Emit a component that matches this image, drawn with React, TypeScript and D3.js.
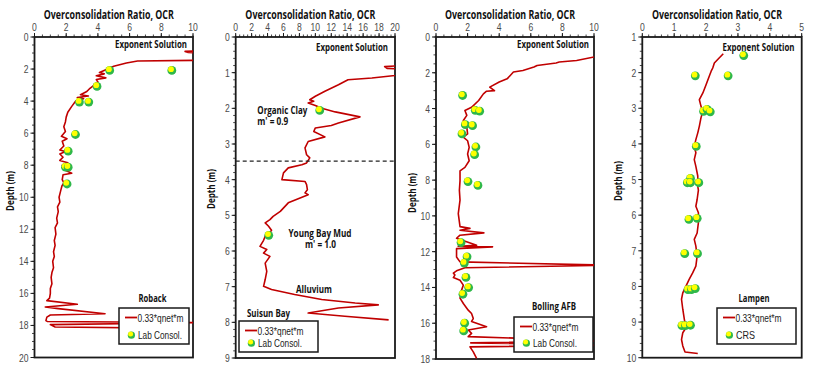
import React from 'react';
import * as d3 from 'd3';

type Pt = [number, number];

// [OCR, depth (m)]
const robackLine: Pt[] = [
  [11, 0.85], [9.5, 0.9], [9.7, 0.97], [12, 1.02], [14, 1.3], [11, 1.45], [6.5, 1.5], [5.8, 1.62],
  [5.0, 1.83], [4.5, 2.04], [4.1, 2.22], [4.4, 2.3], [3.9, 2.42], [4.5, 2.55], [3.9, 2.65], [4.0, 2.8],
  [3.7, 3.05], [3.5, 3.2], [3.3, 3.4], [2.9, 3.6], [3.4, 3.68], [2.7, 3.78], [3.1, 3.85], [2.6, 4.0],
  [2.35, 4.33], [2.1, 4.7], [2.0, 5.0], [1.95, 5.3], [1.85, 5.6], [1.95, 5.9], [1.7, 6.2], [2.05, 6.35],
  [1.75, 6.5], [1.85, 6.8], [1.6, 7.05], [1.95, 7.15], [1.6, 7.3], [1.8, 7.5], [1.6, 7.7], [2.1, 7.85],
  [1.75, 8.0], [1.9, 8.3], [2.35, 8.5], [1.8, 8.6], [1.75, 8.9], [1.85, 9.1], [1.73, 9.3], [1.65, 9.6],
  [1.55, 10.0], [1.6, 10.3], [1.45, 10.6], [1.5, 10.9], [1.4, 11.3], [1.45, 11.6], [1.3, 11.9], [1.35, 12.3],
  [1.25, 12.7], [1.3, 13.0], [1.2, 13.4], [1.25, 13.7], [1.15, 14.0], [1.2, 14.4], [1.1, 14.7], [1.05, 15.0],
  [1.1, 15.4], [1.0, 15.7], [1.0, 16.0], [0.95, 16.3], [0.78, 16.45], [2.7, 16.68], [0.68, 16.85],
  [1.5, 16.95], [4.45, 17.27], [1.0, 17.35], [0.78, 17.48], [0.72, 17.7], [0.8, 17.75], [11, 17.82],
  [1.0, 17.95], [1.3, 18.1], [9.6, 18.18],
];
const robackLab: Pt[] = [
  [4.72, 2.04], [8.64, 2.04], [3.92, 3.04], [2.81, 4.02], [3.4, 4.02], [2.56, 6.04], [2.1, 7.08],
  [1.93, 8.08], [2.1, 8.08], [2.03, 9.13],
];

const suisunLine: Pt[] = [
  [21, 0.8], [18.7, 0.83], [19, 0.88], [21, 0.9], [22, 1.0], [20, 1.08], [17.1, 1.15], [14.1, 1.2],
  [12.9, 1.34], [11.2, 1.52], [10, 1.66], [9.3, 1.76], [9.8, 1.8], [9.1, 1.85], [10, 1.92], [10.8, 2.0],
  [12.5, 2.1], [15.6, 2.24], [12.9, 2.41], [12, 2.48], [10, 2.55], [9.8, 2.65], [11.2, 2.8], [9.1, 2.93],
  [8.7, 3.11], [8.9, 3.3], [9.3, 3.39], [8.9, 3.53], [8.3, 3.58], [6.6, 3.67], [6.0, 3.81], [5.8, 4.0],
  [8.7, 4.05], [8.9, 4.14], [9.0, 4.28], [8.7, 4.37], [9.1, 4.42], [6.6, 4.65], [5.6, 4.89], [4.7, 5.03],
  [4.3, 5.12], [3.7, 5.21], [4.1, 5.3], [4.5, 5.42], [4.1, 5.54], [3.7, 5.59], [3.5, 5.7], [3.05, 5.87],
  [3.9, 5.96], [3.5, 6.06], [4.3, 6.15], [3.7, 6.34], [3.9, 6.57], [3.7, 6.8], [3.5, 6.99], [4.5, 7.08],
  [7.4, 7.22], [10.8, 7.36], [15, 7.46], [17.9, 7.51], [12.9, 7.6], [9.1, 7.74], [13.7, 7.83], [19.2, 7.93],
];
const suisunLab: Pt[] = [[10.5, 2.04], [4.1, 5.54]];

const bollingLine: Pt[] = [
  [11, 1.1], [10, 1.12], [8.9, 1.31], [7.8, 1.4], [7.6, 1.45], [6.4, 1.59], [6.2, 1.68], [5.5, 1.87],
  [4.9, 1.96], [4.7, 2.15], [4.5, 2.34], [4.0, 2.52], [3.4, 2.8], [3.7, 3.0], [3.2, 3.03], [3.0, 3.18],
  [2.7, 3.55], [2.25, 3.93], [1.83, 4.11], [1.95, 4.38], [1.73, 4.67], [1.95, 5.05], [2.0, 5.42],
  [1.73, 5.6], [2.0, 5.8], [2.1, 6.17], [2.0, 6.54], [2.1, 6.92], [1.83, 7.29], [1.52, 7.48], [1.52, 8.04],
  [1.48, 8.57], [1.52, 9.12], [1.41, 9.87], [1.52, 10.6], [2.15, 10.7], [1.52, 10.8], [3.03, 10.95],
  [1.52, 11.08], [1.3, 11.25], [2.57, 11.64], [1.4, 11.7], [3.58, 11.73], [1.3, 11.83], [1.3, 12.3],
  [1.52, 12.57], [11, 12.76], [1.83, 12.9], [1.3, 13.07], [1.1, 13.2], [1.2, 13.3], [1.1, 13.45],
  [1.52, 13.6], [1.73, 13.87], [1.62, 14.15], [1.52, 14.6], [1.73, 14.9], [2.04, 15.27], [2.25, 15.46],
  [2.36, 15.74], [2.25, 15.9], [3.2, 16.2], [2.04, 16.38], [2.25, 16.57], [2.04, 16.75], [11, 17.0],
  [2.2, 17.1], [11, 17.23], [2.15, 17.32], [2.36, 17.6], [2.57, 17.97],
];
const bollingLab: Pt[] = [
  [1.66, 3.23], [2.46, 4.06], [2.74, 4.11], [1.83, 4.86], [2.29, 4.92], [1.62, 5.38], [2.5, 6.11],
  [2.42, 6.54], [2.0, 8.04], [2.63, 8.26], [1.56, 11.45], [1.94, 12.25], [1.77, 12.6], [1.87, 13.4],
  [2.04, 13.97], [1.68, 14.34], [1.79, 15.96], [1.73, 16.39],
];

const lampenLine: Pt[] = [
  [2.54, 1.47], [2.41, 1.59], [2.26, 1.73], [2.21, 1.87], [2.16, 1.96], [2.1, 2.1], [2.0, 2.34],
  [1.9, 2.57], [1.79, 2.76], [1.84, 2.94], [1.9, 3.08], [1.84, 3.27], [1.79, 3.5], [1.74, 3.69],
  [1.68, 3.88], [1.63, 4.07], [1.68, 4.25], [1.63, 4.44], [1.68, 4.63], [1.74, 4.9], [1.74, 5.19],
  [1.76, 5.3], [1.72, 5.56], [1.68, 5.75], [1.76, 5.93], [1.76, 6.21], [1.72, 6.5], [1.63, 6.68],
  [1.68, 6.87], [1.72, 7.15], [1.68, 7.43], [1.58, 7.62], [1.47, 7.8], [1.37, 7.99], [1.27, 8.18],
  [1.23, 8.36], [1.27, 8.64], [1.32, 8.93], [1.37, 9.16], [1.27, 9.3], [1.23, 9.49], [1.27, 9.67],
  [1.34, 9.84], [1.74, 9.88],
];
const lampenCRS: Pt[] = [
  [3.17, 1.5], [1.65, 2.07], [2.68, 2.07], [1.91, 3.07], [2.02, 3.01], [2.12, 3.08], [1.68, 4.05],
  [1.5, 4.95], [1.4, 5.07], [1.5, 5.07], [1.76, 5.07], [1.45, 6.1], [1.71, 6.07], [1.32, 7.06],
  [1.72, 7.06], [1.42, 8.07], [1.53, 8.07], [1.65, 8.04], [1.23, 9.08], [1.34, 9.08], [1.5, 9.07],
];

const lineLabel = '0.33*qnet*m';
const siteNames = ['Roback', 'Suisun Bay', 'Bolling AFB', 'Lampen'];
const pointLabels = ['Lab Consol.', 'Lab Consol.', 'Lab Consol.', 'CRS'];

const RED = '#c00000';
const AXIS = '#1a1a1a';
const TICKTXT = '#4a4a4a';

type Panel = {
  left: number; right: number; top: number; bottom: number;
  xMax: number; xStep: number; xMinor: number;
  yMin: number; yMax: number; yStep: number; yMinor: number;
  line: Pt[]; pts: Pt[]; name: string; ptLabel: string;
  depthLabelY: number;
  solRight: number; solY: number;
  nameX: number; nameY: number; nameW: number;
  legend: { x: number; y: number; w: number; h: number };
};

const panels: Panel[] = [
  {
    left: 34.5, right: 193, top: 37, bottom: 357.5, xMax: 10, xStep: 2, xMinor: 0.5,
    yMin: 0, yMax: 20, yStep: 2, yMinor: 0.5, line: robackLine, pts: robackLab,
    name: siteNames[0], ptLabel: pointLabels[0], depthLabelY: 191,
    solRight: 187, solY: 48, nameX: 152.5, nameY: 302, nameW: 28,
    legend: { x: 119, y: 308, w: 70, h: 36 },
  },
  {
    left: 235.7, right: 395, top: 37, bottom: 358, xMax: 20, xStep: 2, xMinor: 0.5,
    yMin: 0, yMax: 9, yStep: 1, yMinor: 0.2, line: suisunLine, pts: suisunLab,
    name: siteNames[1], ptLabel: pointLabels[1], depthLabelY: 189,
    solRight: 388, solY: 51, nameX: 268.5, nameY: 317, nameW: 43,
    legend: { x: 239, y: 321, w: 79, h: 31 },
  },
  {
    left: 436, right: 594, top: 37, bottom: 359, xMax: 10, xStep: 2, xMinor: 0.5,
    yMin: 0, yMax: 18, yStep: 2, yMinor: 0.5, line: bollingLine, pts: bollingLab,
    name: siteNames[2], ptLabel: pointLabels[2], depthLabelY: 193,
    solRight: 589, solY: 48, nameX: 554, nameY: 310, nameW: 44,
    legend: { x: 514, y: 317, w: 79, h: 35 },
  },
  {
    left: 642.3, right: 801.7, top: 37, bottom: 357.7, xMax: 5, xStep: 1, xMinor: 0.2,
    yMin: 1, yMax: 10, yStep: 1, yMinor: 0.2, line: lampenLine, pts: lampenCRS,
    name: siteNames[3], ptLabel: pointLabels[3], depthLabelY: 181,
    solRight: 794.5, solY: 51, nameX: 754, nameY: 302, nameW: 31,
    legend: { x: 717, y: 308, w: 79, h: 36 },
  },
];

const BOLD = '"Open Sans", Lato, sans-serif';
const SANS = '"Liberation Sans", Arial, sans-serif';

const Marker = ({ x, y, small }: { x: number; y: number; small?: boolean }) => (
  <g>
    <circle cx={x + 0.4} cy={y + 0.7} r={small ? 3.6 : 4.4} fill="#2fb84a" />
    <circle cx={x - 0.4} cy={y - 0.5} r={small ? 2.5 : 2.9} fill="#ffff00" />
  </g>
);

const range = (a: number, b: number, s: number) => {
  const out: number[] = [];
  const n = Math.round((b - a) / s);
  for (let i = 0; i <= n; i++) out.push(+(a + i * s).toFixed(4));
  return out;
};

const PanelChart = ({ p, i }: { p: Panel; i: number }) => {
  const x = d3.scaleLinear().domain([0, p.xMax]).range([p.left, p.right]);
  const y = d3.scaleLinear().domain([p.yMin, p.yMax]).range([p.top, p.bottom]);
  const line = d3.line<Pt>().x(d => x(d[0])).y(d => y(d[1]));
  const xMajors = range(0, p.xMax, p.xStep);
  const xMinors = range(0, p.xMax, p.xMinor);
  const yMajors = range(p.yMin, p.yMax, p.yStep);
  const yMinors = range(p.yMin, p.yMax, p.yMinor);
  const cx = (p.left + p.right) / 2 - 5;
  const cid = `clip${i}`;
  const lg = p.legend;
  return (
    <g>
      <defs>
        <clipPath id={cid}>
          <rect x={p.left} y={p.top} width={p.right - p.left} height={p.bottom - p.top} />
        </clipPath>
      </defs>
      <text x={cx} y={19} textAnchor="middle" fontFamily={BOLD} fontWeight="bold" fontSize={12}
        textLength={130} lengthAdjust="spacingAndGlyphs" fill="#111">Overconsolidation Ratio, OCR</text>
      {xMinors.map(v => (
        <line key={'xm' + v} x1={x(v)} x2={x(v)} y1={p.top} y2={p.top - 2.5} stroke={AXIS} strokeWidth={0.8} />
      ))}
      {xMajors.map(v => (
        <g key={'xM' + v}>
          <line x1={x(v)} x2={x(v)} y1={p.top} y2={p.top - 4} stroke={AXIS} strokeWidth={1} />
          <text transform={`translate(${x(v)},31) scale(0.78,1)`} textAnchor="middle" fontFamily={SANS}
            fontSize={11} fill={TICKTXT}>{v}</text>
        </g>
      ))}
      {yMinors.map(v => (
        <line key={'ym' + v} x1={p.left} x2={p.left - 2.5} y1={y(v)} y2={y(v)} stroke={AXIS} strokeWidth={0.8} />
      ))}
      {yMajors.map(v => (
        <g key={'yM' + v}>
          <line x1={p.left} x2={p.left - 4} y1={y(v)} y2={y(v)} stroke={AXIS} strokeWidth={1} />
          <text transform={`translate(${p.left - 6},${y(v) + 4}) scale(0.78,1)`} textAnchor="end"
            fontFamily={SANS} fontSize={11} fill={TICKTXT}>{v}</text>
        </g>
      ))}
      <text transform={`translate(${p.left - 20.5},${p.depthLabelY}) rotate(-90)`} textAnchor="middle"
        fontFamily={BOLD} fontWeight="bold" fontSize={11} textLength={40} lengthAdjust="spacingAndGlyphs"
        fill="#111">Depth (m)</text>
      <rect x={p.left} y={p.top} width={p.right - p.left} height={p.bottom - p.top} fill="none"
        stroke={AXIS} strokeWidth={1.8} />
      <g clipPath={`url(#${cid})`}>
        <path d={line(p.line) || ''} fill="none" stroke={RED} strokeWidth={1.6} strokeLinejoin="round" />
        {i === 1 && (
          <line x1={p.left} x2={p.right} y1={y(3.48)} y2={y(3.48)} stroke="#222" strokeWidth={1.4}
            strokeDasharray="4,3" />
        )}
        {p.pts.map((d, k) => <Marker key={k} x={x(d[0])} y={y(d[1])} />)}
      </g>
      <text x={p.solRight} y={p.solY} textAnchor="end" fontFamily={BOLD} fontWeight="bold" fontSize={10.5}
        textLength={72} lengthAdjust="spacingAndGlyphs" fill="#111">Exponent Solution</text>
      <text x={p.nameX} y={p.nameY} textAnchor="middle" fontFamily={BOLD} fontWeight="bold" fontSize={10.5}
        textLength={p.nameW} lengthAdjust="spacingAndGlyphs" fill="#111">{p.name}</text>
      <rect x={lg.x} y={lg.y} width={lg.w} height={lg.h} fill="#fff" stroke={AXIS} strokeWidth={1.5} />
      <line x1={lg.x + 6} x2={lg.x + 18} y1={lg.y + 9.5} y2={lg.y + 9.5} stroke={RED} strokeWidth={1.8} />
      <text x={lg.x + 18.5} y={lg.y + 13.5} fontFamily={SANS} fontSize={10.5} fill="#222"
        textLength={46} lengthAdjust="spacingAndGlyphs">{lineLabel}</text>
      <Marker x={lg.x + 12} y={lg.y + lg.h - 9.5} small />
      <text x={lg.x + 19} y={lg.y + lg.h - 5.5} fontFamily={SANS} fontSize={10.5} fill="#222"
        textLength={p.ptLabel === 'CRS' ? 19 : 44} lengthAdjust="spacingAndGlyphs">{p.ptLabel}</text>
    </g>
  );
};

// text notes inside the Suisun Bay panel
const suisunNotes = [
  { t: 'Organic Clay', x: 257.3, y: 114, w: 50, anchor: 'start' },
  { t: "m' = 0.9", x: 257.3, y: 125, w: 31, anchor: 'start' },
  { t: 'Young Bay Mud', x: 320, y: 237, w: 63, anchor: 'middle' },
  { t: "m' = 1.0", x: 320.5, y: 248, w: 31, anchor: 'middle' },
  { t: 'Alluvium', x: 296, y: 293, w: 36, anchor: 'start' },
];

export default function App() {
  return (
    <svg width={816} height={373} style={{ position: 'absolute', left: 0, top: 0, background: '#fff' }}>
      <rect width={816} height={373} fill="#fff" />
      {panels.map((p, i) => <PanelChart key={i} p={p} i={i} />)}
      {suisunNotes.map(n => (
        <text key={n.t} x={n.x} y={n.y} textAnchor={n.anchor as any} fontFamily={BOLD} fontWeight="bold"
          fontSize={10.5} textLength={n.w} lengthAdjust="spacingAndGlyphs" fill="#111">{n.t}</text>
      ))}
    </svg>
  );
}
